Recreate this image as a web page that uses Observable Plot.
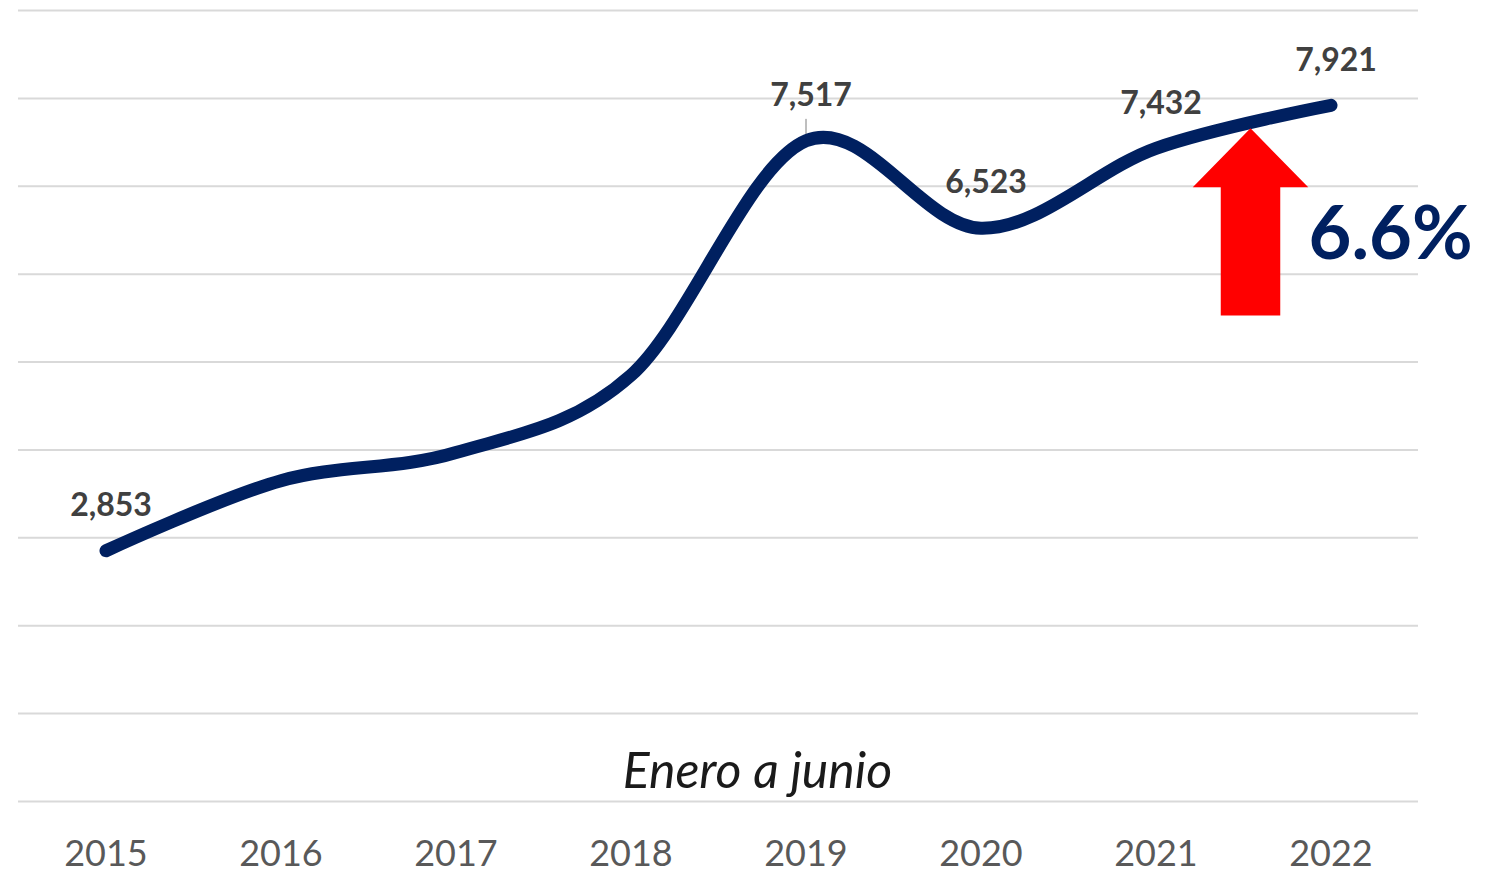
<!DOCTYPE html>
<html>
<head>
<meta charset="utf-8">
<script src="https://cdn.jsdelivr.net/npm/d3@7"></script>
<script src="https://cdn.jsdelivr.net/npm/@observablehq/plot@0.6"></script>
<style>
  html, body { margin: 0; padding: 0; background: #ffffff; overflow: hidden; }
  #chart svg { display: block; }
</style>
</head>
<body>
<div id="chart"></div>
<script>
// ---- data ----
const years = [2015, 2016, 2017, 2018, 2019, 2020, 2021, 2022];
const values = [2853, 3650, 3970, 4850, 7517, 6523, 7432, 7921];
const labeledYears = [2015, 2019, 2020, 2021, 2022];
const gridValues = [0, 1000, 2000, 3000, 4000, 5000, 6000, 7000, 8000, 9000];
const periodLabel = "Enero a junio";
const growthLabel = "6.6%";

const data = years.map((year, i) => ({year, value: values[i]}));
const labeled = data.filter(d => labeledYears.includes(d.year));

// arrow annotation (in data units)
const ax = 2021.54, aHead = 0.33, aShaft = 0.17;
const arrow = [
  {x: ax, y: 7660},
  {x: ax + aHead, y: 6990},
  {x: ax + aShaft, y: 6990},
  {x: ax + aShaft, y: 5530},
  {x: ax - aShaft, y: 5530},
  {x: ax - aShaft, y: 6990},
  {x: ax - aHead, y: 6990},
  {x: ax, y: 7660}
];

const chart = Plot.plot({
  width: 1496,
  height: 872,
  marginLeft: 18,
  marginRight: 78,
  marginTop: 10,
  marginBottom: 71,
  style: {fontFamily: "Lato, 'Open Sans', sans-serif", background: "#ffffff", overflow: "visible"},
  x: {domain: [2014.5, 2022.5]},
  y: {domain: [0, 9000], axis: null},
  marks: [
    Plot.ruleY(gridValues, {stroke: "#d9d9d9", strokeWidth: 2}),
    Plot.axisX({ticks: years, tickFormat: d => String(d), tickSize: 0, tickPadding: 39,
      fontSize: 36, fill: "#595959", label: null}),
    Plot.text([periodLabel], {frameAnchor: "bottom", dx: 39, dy: -14, fontSize: 50,
      fontStyle: "italic", fill: "#1a1a1a"}),
    Plot.link([data[4]], {x1: "year", x2: "year", y1: "value", y2: d => d.value + 250,
      stroke: "#7f7f7f", strokeWidth: 1}),
    Plot.line(data, {x: "year", y: "value", curve: "cardinal", stroke: "#002060",
      strokeWidth: 13, strokeLinecap: "round", strokeLinejoin: "round"}),
    Plot.text(labeled, {x: "year", y: "value", text: d => d3.format(",")(d.value),
      dy: -45, dx: 5, fontSize: 32, fontWeight: "bold", fill: "#404040"}),
    Plot.line(arrow, {x: "x", y: "y", fill: "#ff0000", stroke: "none"}),
    Plot.text([growthLabel], {x: [2022.34], y: [6440], text: d => d, fontSize: 74,
      fontWeight: "bold", fill: "#002060"})
  ]
});
document.getElementById("chart").appendChild(chart);
</script>
</body>
</html>
